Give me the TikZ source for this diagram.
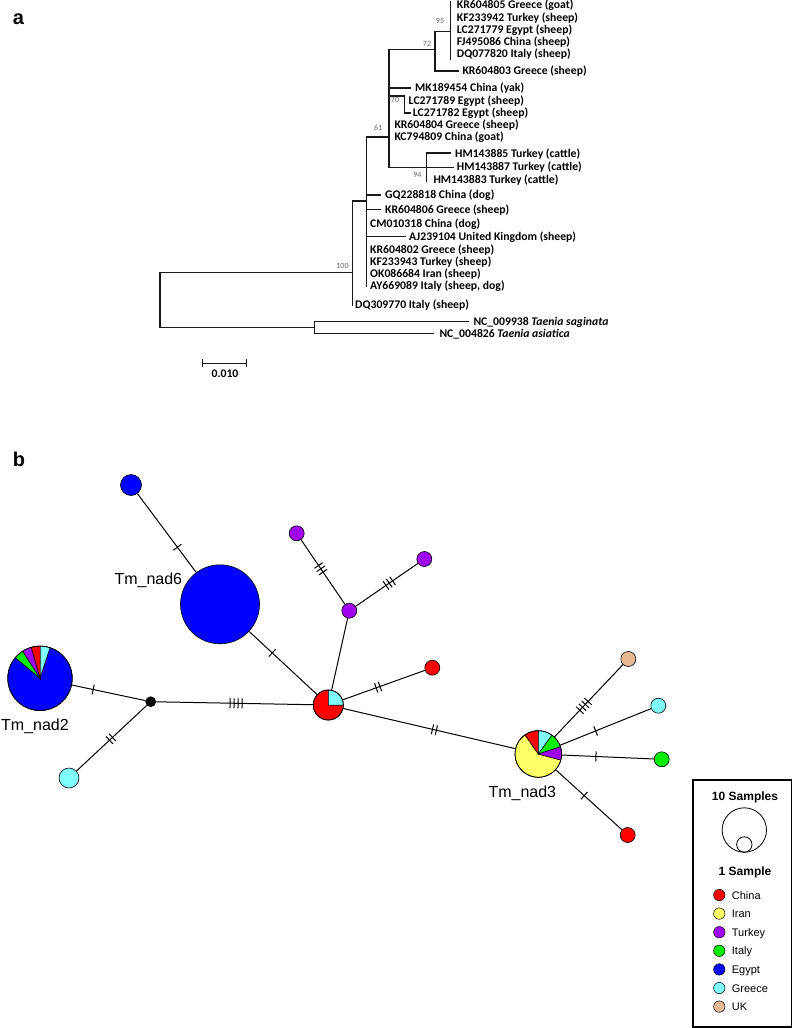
\documentclass[tikz,border=0pt]{standalone}
\usepackage{fontspec}
\setmainfont{Carlito}
\newfontfamily\arialfont{Liberation Sans}
\usepackage{tikz}
\definecolor{cChina}{HTML}{FF0000}
\definecolor{cIran}{HTML}{FFFF66}
\definecolor{cTurkey}{HTML}{A000F0}
\definecolor{cItaly}{HTML}{00EE00}
\definecolor{cEgypt}{HTML}{0000FF}
\definecolor{cGreece}{HTML}{80FFFF}
\definecolor{cUK}{HTML}{E6B894}
\newcommand{\hslice}[5]{\filldraw[fill=#5, draw=black, line width=0.5pt] (#1.center) -- ++(#3:#2pt) arc[start angle=#3, end angle=#4, radius=#2pt] -- cycle;}

\begin{document}
\begin{tikzpicture}[x=1pt,y=-1pt,
  br/.style={line width=1.5pt, black!90, line cap=rect},
  leaf/.style={anchor=west, inner sep=0pt, text height=7.5pt, text depth=0pt, font=\bfseries\fontsize{11.7}{13}\selectfont},
  boot/.style={inner sep=0pt, text=black!60, font=\fontsize{8}{9}\selectfont},
  panel/.style={anchor=base west, inner sep=0pt, font=\arialfont\bfseries\fontsize{20}{24}\selectfont},
  hap/.style={circle, draw, line width=0.6pt, inner sep=0pt, minimum size=#1},
  link/.style={line width=1pt},
  hname/.style={inner sep=0pt, text height=11.5pt, text depth=0pt, font=\arialfont\fontsize{16}{18}\selectfont},
  pics/mut/.style={code={\foreach \k in {1,...,#1} \draw[line width=1pt] ({(\k-(#1+1)/2)*4},-5) -- ++(0,10);}},
  key/.style={circle, draw, line width=0.5pt, inner sep=0pt, minimum size=11.4pt},
  keytext/.style={anchor=west, inner sep=0pt, text height=8pt, text depth=0pt, font=\arialfont\fontsize{11}{13}\selectfont},
  keyhead/.style={inner sep=0pt, text height=8.6pt, text depth=0pt, font=\arialfont\bfseries\fontsize{12}{14}\selectfont}]
\useasboundingbox (0,0) rectangle (796,1028);
\node[panel] at (12.7,24) {a};
\node[panel] at (12.7,466) {b};
\draw[br] (160,272.7) -- (160,327.7);
\draw[br] (160,272.7) -- (352.3,272.7);
\draw[br] (160,327.7) -- (314.3,327.7);
\draw[br] (352.3,201) -- (352.3,305);
\draw[br] (352.3,201) -- (366.7,201);
\draw[br] (366.7,137) -- (366.7,286.7);
\draw[br] (366.7,195) -- (380,195);
\draw[br] (366.7,209.3) -- (380,209.3);
\draw[br] (366.7,236.7) -- (405,236.7);
\draw[br] (366.7,137) -- (389,137);
\draw[br] (389,49.3) -- (389,167.5);
\draw[br] (389,49.3) -- (435,49.3);
\draw[br] (389,88) -- (410,88);
\draw[br] (389,96) -- (404.3,96);
\draw[br] (389,167.5) -- (426.7,167.5);
\draw[br] (435,31.7) -- (435,71);
\draw[br] (435,31.7) -- (450.7,31.7);
\draw[br] (435,71) -- (458,71);
\draw[br] (450.7,2) -- (450.7,59);
\draw[br] (404.3,96) -- (404.3,113);
\draw[br] (404.3,113) -- (410,113);
\draw[br] (426.7,153) -- (426.7,181);
\draw[br] (426.7,153) -- (450,153);
\draw[br] (426.7,167.5) -- (453,167.5);
\draw[br] (314.3,321.7) -- (314.3,333.3);
\draw[br] (314.3,321.7) -- (468.3,321.7);
\draw[br] (314.3,333.3) -- (433.3,333.3);
\node[leaf] at (456.7,5) {KR604805 Greece (goat)};
\node[leaf] at (456.7,17.5) {KF233942 Turkey (sheep)};
\node[leaf] at (456.7,30) {LC271779 Egypt (sheep)};
\node[leaf] at (456.7,42) {FJ495086 China (sheep)};
\node[leaf] at (456.7,54) {DQ077820 Italy (sheep)};
\node[leaf] at (462.3,71) {KR604803 Greece (sheep)};
\node[leaf] at (415,88) {MK189454 China (yak)};
\node[leaf] at (408.5,100.5) {LC271789 Egypt (sheep)};
\node[leaf] at (412.7,112.7) {LC271782 Egypt (sheep)};
\node[leaf] at (394.3,125) {KR604804 Greece (sheep)};
\node[leaf] at (394.3,137) {KC794809 China (goat)};
\node[leaf] at (455,154) {HM143885 Turkey (cattle)};
\node[leaf] at (456.7,167) {HM143887 Turkey (cattle)};
\node[leaf] at (433.3,180) {HM143883 Turkey (cattle)};
\node[leaf] at (385,195) {GQ228818 China (dog)};
\node[leaf] at (385,209.3) {KR604806 Greece (sheep)};
\node[leaf] at (370,223.3) {CM010318 China (dog)};
\node[leaf] at (409,236.7) {AJ239104 United Kingdom (sheep)};
\node[leaf] at (370,250) {KR604802 Greece (sheep)};
\node[leaf] at (370,262) {KF233943 Turkey (sheep)};
\node[leaf] at (370,274) {OK086684 Iran (sheep)};
\node[leaf] at (370,286) {AY669089 Italy (sheep, dog)};
\node[leaf] at (355,305) {DQ309770 Italy (sheep)};
\node[leaf] at (473.3,321.7) {NC\_009938 \textit{Taenia saginata}};
\node[leaf] at (439.3,333.3) {NC\_004826 \textit{Taenia asiatica}};
\node[boot] at (440,21) {95};
\node[boot] at (427,44) {72};
\node[boot] at (395,99.5) {70};
\node[boot] at (378.3,128.3) {61};
\node[boot] at (417.3,175) {94};
\node[boot] at (342.5,265.5) {100};
\draw[br] (202.3,363.3) -- (246.7,363.3);
\draw[br] (202.3,360) -- (202.3,366.6);
\draw[br] (246.7,360) -- (246.7,366.6);
\node[leaf, anchor=center] at (225,374) {0.010};
\node[hap=21pt, fill=cEgypt] (b1) at (131,485) {};
\node[hap=79pt, fill=cEgypt] (nad6) at (220,604.3) {};
\node[hap=64.4pt] (nad2) at (40,678.3) {};
\hslice{nad2}{32.2}{140}{432}{cEgypt}
\hslice{nad2}{32.2}{72}{90}{cGreece}
\hslice{nad2}{32.2}{90}{106}{cChina}
\hslice{nad2}{32.2}{106}{123}{cTurkey}
\hslice{nad2}{32.2}{123}{140}{cItaly}
\draw[line width=0.6pt] (nad2.center) circle[radius=32.2pt];
\node[hap=10pt, fill=black] (mv) at (150.7,701.7) {};
\node[hap=20pt, fill=cGreece] (g1) at (69,778) {};
\node[hap=30pt] (c1) at (328.3,705) {};
\hslice{c1}{15}{90}{360}{cChina}
\hslice{c1}{15}{0}{90}{cGreece}
\draw[line width=0.6pt] (c1.center) circle[radius=15pt];
\node[hap=15pt, fill=cTurkey] (p1) at (349.3,610.7) {};
\node[hap=15pt, fill=cTurkey] (p2) at (296.7,533.3) {};
\node[hap=15pt, fill=cTurkey] (p3) at (424.3,559) {};
\node[hap=15pt, fill=cChina] (r1) at (432.3,667.7) {};
\node[hap=46.6pt] (nad3) at (538.3,754) {};
\hslice{nad3}{23.3}{125}{345}{cIran}
\hslice{nad3}{23.3}{90}{125}{cChina}
\hslice{nad3}{23.3}{54}{90}{cGreece}
\hslice{nad3}{23.3}{18}{54}{cItaly}
\hslice{nad3}{23.3}{-15}{18}{cTurkey}
\draw[line width=0.6pt] (nad3.center) circle[radius=23.3pt];
\node[hap=15pt, fill=cUK] (uk) at (628.3,659) {};
\node[hap=15pt, fill=cGreece] (g2) at (658.3,705.7) {};
\node[hap=15pt, fill=cItaly] (it) at (661.7,759.3) {};
\node[hap=15pt, fill=cChina] (r2) at (627.7,835) {};
\draw[link] (b1) -- (nad6) pic[pos=.68,sloped]{mut=1};
\draw[link] (nad6) -- (c1) pic[pos=.34,sloped]{mut=1};
\draw[link] (nad2) -- (mv) pic[pos=.29,sloped]{mut=1};
\draw[link] (mv) -- (g1) pic[pos=.51,sloped]{mut=2};
\draw[link] (mv) -- (c1) pic[pos=.51,sloped]{mut=4};
\draw[link] (c1) -- (p1);
\draw[link] (p1) -- (p2) pic[pos=.55,sloped]{mut=3};
\draw[link] (p1) -- (p3) pic[pos=.54,sloped]{mut=3};
\draw[link] (c1) -- (r1) pic[pos=.43,sloped]{mut=2};
\draw[link] (c1) -- (nad3) pic[pos=.53,sloped]{mut=2};
\draw[link] (nad3) -- (uk) pic[pos=.43,sloped]{mut=4};
\draw[link] (nad3) -- (g2) pic[pos=.39,sloped]{mut=1};
\draw[link] (nad3) -- (it) pic[pos=.37,sloped]{mut=1};
\draw[link] (nad3) -- (r2) pic[pos=.43,sloped]{mut=1};
\node[hname] at (148.3,578.3) {Tm\_nad6};
\node[hname] at (35,725) {Tm\_nad2};
\node[hname] at (522.3,791.7) {Tm\_nad3};
\draw[line width=1.4pt] (693,780) rectangle (791.7,1027);
\node[keyhead] at (745,796) {10 Samples};
\draw[line width=0.8pt] (744.3,830) circle[radius=22.2pt];
\draw[line width=0.8pt] (744.3,844.5) circle[radius=7.7pt];
\node[keyhead] at (745,871) {1 Sample};
\foreach \c/\n [count=\i] in {cChina/China, cIran/Iran, cTurkey/Turkey, cItaly/Italy, cEgypt/Egypt, cGreece/Greece, cUK/UK} {
  \node[key, fill=\c] (k\i) at (719.3,{895+18.6*(\i-1)}) {};
  \node[keytext] at (731.7,{895+18.6*(\i-1)}) {\n};
}
\end{tikzpicture}
\end{document}
